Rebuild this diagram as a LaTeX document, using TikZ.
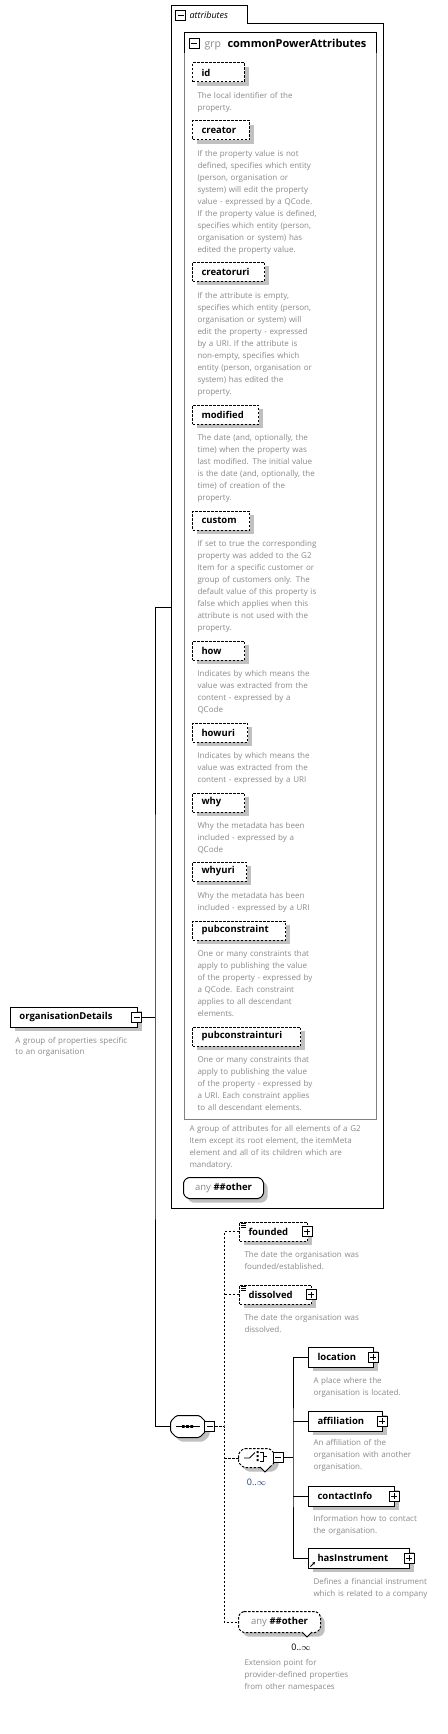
\documentclass[tikz,border=0pt]{standalone}
\usepackage{fontspec}
\setmainfont{Open Sans}
\usetikzlibrary{shadows,calc,arrows.meta}
\definecolor{descgray}{HTML}{8A8A8A}
\definecolor{shadowgray}{HTML}{C0C0C0}
\definecolor{navy}{HTML}{1F3F7F}
\definecolor{boxgray}{HTML}{808080}
\newcommand\bname{\fontsize{9.5}{11}\selectfont\bfseries}
\newcommand\dfont{\fontsize{8}{12}\selectfont}
% octagon drawn round a named node: [draw options]{node}{chamfer}
\newcommand\octa[3][]{%
 \fill[shadowgray,rounded corners=1.5pt] ($(#2.north west)+(#3+4,4)$) -- ($(#2.north east)+(-#3+4,4)$) -- ($(#2.north east)+(4,#3+4)$) -- ($(#2.south east)+(4,-#3+4)$) -- ($(#2.south east)+(-#3+4,4)$) -- ($(#2.south west)+(#3+4,4)$) -- ($(#2.south west)+(4,-#3+4)$) -- ($(#2.north west)+(4,#3+4)$) -- cycle;
 \draw[fill=white,rounded corners=1.5pt,#1] ($(#2.north west)+(#3,0)$) -- ($(#2.north east)+(-#3,0)$) -- ($(#2.north east)+(0,#3)$) -- ($(#2.south east)+(0,-#3)$) -- ($(#2.south east)+(-#3,0)$) -- ($(#2.south west)+(#3,0)$) -- ($(#2.south west)+(0,-#3)$) -- ($(#2.north west)+(0,#3)$) -- cycle;}
\begin{document}
\begin{tikzpicture}[x=1pt,y=-1pt,line width=1pt,
  shad/.style={drop shadow={shadow xshift=4pt,shadow yshift=-4pt,fill=shadowgray,opacity=1}},
  dsh/.style={dash pattern=on 2.5pt off 1.5pt},
  eb/.style={draw,fill=white,shad,minimum height=20pt,inner xsep=9pt,inner ysep=0pt,anchor=west,font=\bname,text width={#1-18pt},minimum width={#1},align=left},
  ab/.style={eb=#1,dsh,minimum height=19pt},
  desc/.style={anchor=base west,inner sep=0pt,font=\dfont,text=descgray,text width=250pt,align=left},
  pmbox/.style={draw,fill=white,minimum size=10pt,inner sep=0pt,line width=1pt},
  minus/.style={pmbox,path picture={\draw[line width=1pt] ([xshift=2pt]path picture bounding box.west)--([xshift=-2pt]path picture bounding box.east);}},
  plus/.style={pmbox,path picture={\draw[line width=1pt] ([xshift=2pt]path picture bounding box.west)--([xshift=-2pt]path picture bounding box.east) ([yshift=-2pt]path picture bounding box.north)--([yshift=2pt]path picture bounding box.south);}},
  obox/.style={inner sep=0pt},
  cnt/.style={inner sep=0pt,font=\fontsize{9}{10}\selectfont}
]
\useasboundingbox[fill=white] (0,0) rectangle (447,1734);

% ---- attributes container
\node[minimum width=212pt,minimum height=1202pt,anchor=north west,inner sep=0pt] (attr) at (171,6) {};
\draw (171,1208)--(171,6)--(247,6)--(247,24)--(383,24)--(383,1208)--cycle;
\node[minus] (attm) at (180.5,16) {};
\node[anchor=base west,inner sep=0pt,font=\fontsize{9}{11}\selectfont\itshape] (attl) at (189,19) {attributes};

% ---- group box
\draw[boxgray] (184,33) rectangle (376,1119);
\draw (184,53)--(184,33)--(376,33)--(376,53);
\node[minus] (grpm) at (194,44) {};
\node[anchor=base west,inner sep=0pt,font=\fontsize{10.5}{11}\selectfont,text=descgray] (grpl) at (204,47.5) {grp};
\node[anchor=base west,inner sep=0pt,font=\fontsize{11}{12}\selectfont\bfseries] (grpn) at (227,47.5) {commonPowerAttributes};

% ---- attributes
\node[ab=52] (id) at (192,72.5) {id};
\node[desc] (did) at (197,98.5) {The local identifier of the\\property.};
\node[ab=57] (creator) at (192,130.5) {creator};
\node[desc] (dcreator) at (197,156.5) {If the property value is not\\defined, specifies which entity\\(person, organisation or\\system) will edit the property\\value - expressed by a QCode.\\If the property value is defined,\\specifies which entity (person,\\organisation or system) has\\edited the property value.};
\node[ab=72] (creatoruri) at (192,271.5) {creatoruri};
\node[desc] (dcreatoruri) at (197,298.5) {If the attribute is empty,\\specifies which entity (person,\\organisation or system) will\\edit the property - expressed\\by a URI. If the attribute is\\non-empty, specifies which\\entity (person, organisation or\\system) has edited the\\property.};
\node[ab=66] (modified) at (192,414.5) {modified};
\node[desc] (dmodified) at (197,440.5) {The date (and, optionally, the\\time) when the property was\\last modified. The initial value\\is the date (and, optionally, the\\time) of creation of the\\property.};
\node[ab=57] (custom) at (192,520.5) {custom};
\node[desc] (dcustom) at (197,546.5) {If set to true the corresponding\\property was added to the G2\\Item for a specific customer or\\group of customers only. The\\default value of this property is\\false which applies when this\\attribute is not used with the\\property.};
\node[ab=52] (how) at (192,650.5) {how};
\node[desc] (dhow) at (197,676.5) {Indicates by which means the\\value was extracted from the\\content - expressed by a\\QCode};
\node[ab=55] (howuri) at (192,732.5) {howuri};
\node[desc] (dhowuri) at (197,758.5) {Indicates by which means the\\value was extracted from the\\content - expressed by a URI};
\node[ab=52] (why) at (192,802.5) {why};
\node[desc] (dwhy) at (197,828.5) {Why the metadata has been\\included - expressed by a\\QCode};
\node[ab=54] (whyuri) at (192,871.5) {whyuri};
\node[desc] (dwhyuri) at (197,898.5) {Why the metadata has been\\included - expressed by a URI};
\node[ab=93] (pubc) at (192,930.5) {pubconstraint};
\node[desc] (dpubc) at (197,956.5) {One or many constraints that\\apply to publishing the value\\of the property - expressed by\\a QCode. Each constraint\\applies to all descendant\\elements.};
\node[ab=108] (pubcu) at (192,1036.5) {pubconstrainturi};
\node[desc] (dpubcu) at (197,1062.5) {One or many constraints that\\apply to publishing the value\\of the property - expressed by\\a URI. Each constraint applies\\to all descendant elements.};
\node[desc] (dgrp) at (189,1131.5) {A group of attributes for all elements of a G2\\Item except its root element, the itemMeta\\element and all of its children which are\\mandatory.};

\node[obox,minimum width=79pt,minimum height=20pt] (anya) at (223.5,1188) {};
\octa{anya}{4}
\node[inner sep=0pt] (anyat) at (anya.center) {{\fontsize{9.5}{11}\selectfont\color{descgray}any}\ {\bname\#\#other}};

% ---- root element
\node[eb=127] (od) at (10,1017) {organisationDetails};
\node[minus] (odm) at (136.5,1017) {};
\node[desc,text width=150pt,font=\fontsize{8}{11}\selectfont] (dod) at (15,1043.5) {A group of properties specific\\to an organisation};

% ---- sequence
\node[obox,minimum width=34pt,minimum height=21pt] (seq) at (188,1426.5) {};
\octa{seq}{6}
\draw (176,1426.5)--(200,1426.5);
\fill (182,1425.2) rectangle (184.6,1427.8) (186.2,1425.2) rectangle (188.8,1427.8) (190.4,1425.2) rectangle (193,1427.8);
\node[minus] (seqm) at (209.5,1426.5) {};

% ---- main tree
\coordinate (trunk) at (155,1017);
\draw (odm.east) -- (trunk);
\draw (attr.west) -| (trunk) |- (seq.west);

% ---- optional elements
\node[ab=68] (founded) at (239,1231.5) {founded};
\node[plus] (foundedp) at (307,1231.5) {};
\draw[line width=0.6pt] (241,1223.5)--(245.5,1223.5) (241,1225.2)--(245.5,1225.2) (241,1226.9)--(245.5,1226.9);
\node[desc] (dfounded) at (244,1257.5) {The date the organisation was\\founded/established.};
\node[ab=72] (dissolved) at (239,1294.5) {dissolved};
\node[plus] (dissolvedp) at (311,1294.5) {};
\draw[line width=0.6pt] (241,1286.5)--(245.5,1286.5) (241,1288.2)--(245.5,1288.2) (241,1289.9)--(245.5,1289.9);
\node[desc] (ddissolved) at (244,1320.5) {The date the organisation was\\dissolved.};

% ---- choice
\node[obox,minimum width=35pt,minimum height=18pt] (choice) at (256.5,1458) {};
\octa[dsh]{choice}{5}
\draw[line width=0.8pt] (244,1458)--(249.5,1458)--(255,1452.5);
\fill (256.5,1451) rectangle (258.7,1453.2) (256.5,1455) rectangle (258.7,1457.2) (256.5,1459) rectangle (258.7,1461.2);
\draw[line width=0.8pt] (260,1452)--(263.5,1452)--(263.5,1461)--(260,1461) (263.5,1456.5)--(267,1456.5);
\fill[white] (260,1466.5)--(270,1466.5)--(265,1472)--cycle;
\draw[line width=0.8pt] (260,1467)--(265,1472)--(270,1467);
\node[minus] (chm) at (278,1457.5) {};
\node[cnt,text=navy] (chocc) at (256.5,1482) {0..$\infty$};

% ---- choice children
\node[eb=65] (location) at (308,1357) {location};
\node[plus] (locationp) at (373,1357) {};
\node[desc] (dlocation) at (313,1383.5) {A place where the\\organisation is located.};
\node[eb=74] (affil) at (308,1421) {affiliation};
\node[plus] (affilp) at (382,1421) {};
\node[desc] (daffil) at (313,1445.5) {An affiliation of the\\organisation with another\\organisation.};
\node[eb=86] (contact) at (308,1496) {contactInfo};
\node[plus] (contactp) at (394,1496) {};
\node[desc] (dcontact) at (313,1521.5) {Information how to contact\\the organisation.};
\node[eb=101] (hasinst) at (308,1558) {hasInstrument};
\node[plus] (hasinstp) at (409,1558) {};
\draw[-{Stealth[length=2.8pt,width=3pt]},line width=0.8pt] (310.5,1566.5)--(315,1562);
\node[desc] (dhasinst) at (313,1584.5) {Defines a financial instrument\\which is related to a company};

\coordinate (ctrunk) at (293,1457.5);
\draw (chm.east) -- (ctrunk);
\draw (location.west) -| (ctrunk) |- (hasinst.west);
\draw (affil.west) -- (affil.west -| ctrunk);
\draw (contact.west) -- (contact.west -| ctrunk);

% ---- any other (bottom)
\node[obox,minimum width=81pt,minimum height=20pt] (anyb) at (279.5,1622) {};
\octa[dsh]{anyb}{4}
\node[inner sep=0pt] (anybt) at (anyb.center) {{\fontsize{9.5}{11}\selectfont\color{descgray}any}\ {\bname\#\#other}};
\fill[white] (302,1631.5)--(312,1631.5)--(307,1637)--cycle;
\draw[line width=0.8pt] (302,1632)--(307,1637)--(312,1632);
\node[cnt] (anyocc) at (301,1647) {0..$\infty$};
\node[desc] (dany) at (244,1665.5) {Extension point for\\provider-defined properties\\from other namespaces};

% ---- dashed tree
\coordinate (dtrunk) at (224,1426.5);
\draw[dsh] (seqm.east) -- (dtrunk);
\draw[dsh] (founded.west) -| (dtrunk) |- (anyb.west);
\draw[dsh] (dissolved.west) -- (dissolved.west -| dtrunk);
\draw[dsh] (choice.west) -- (choice.west -| dtrunk);
\end{tikzpicture}
\end{document}
